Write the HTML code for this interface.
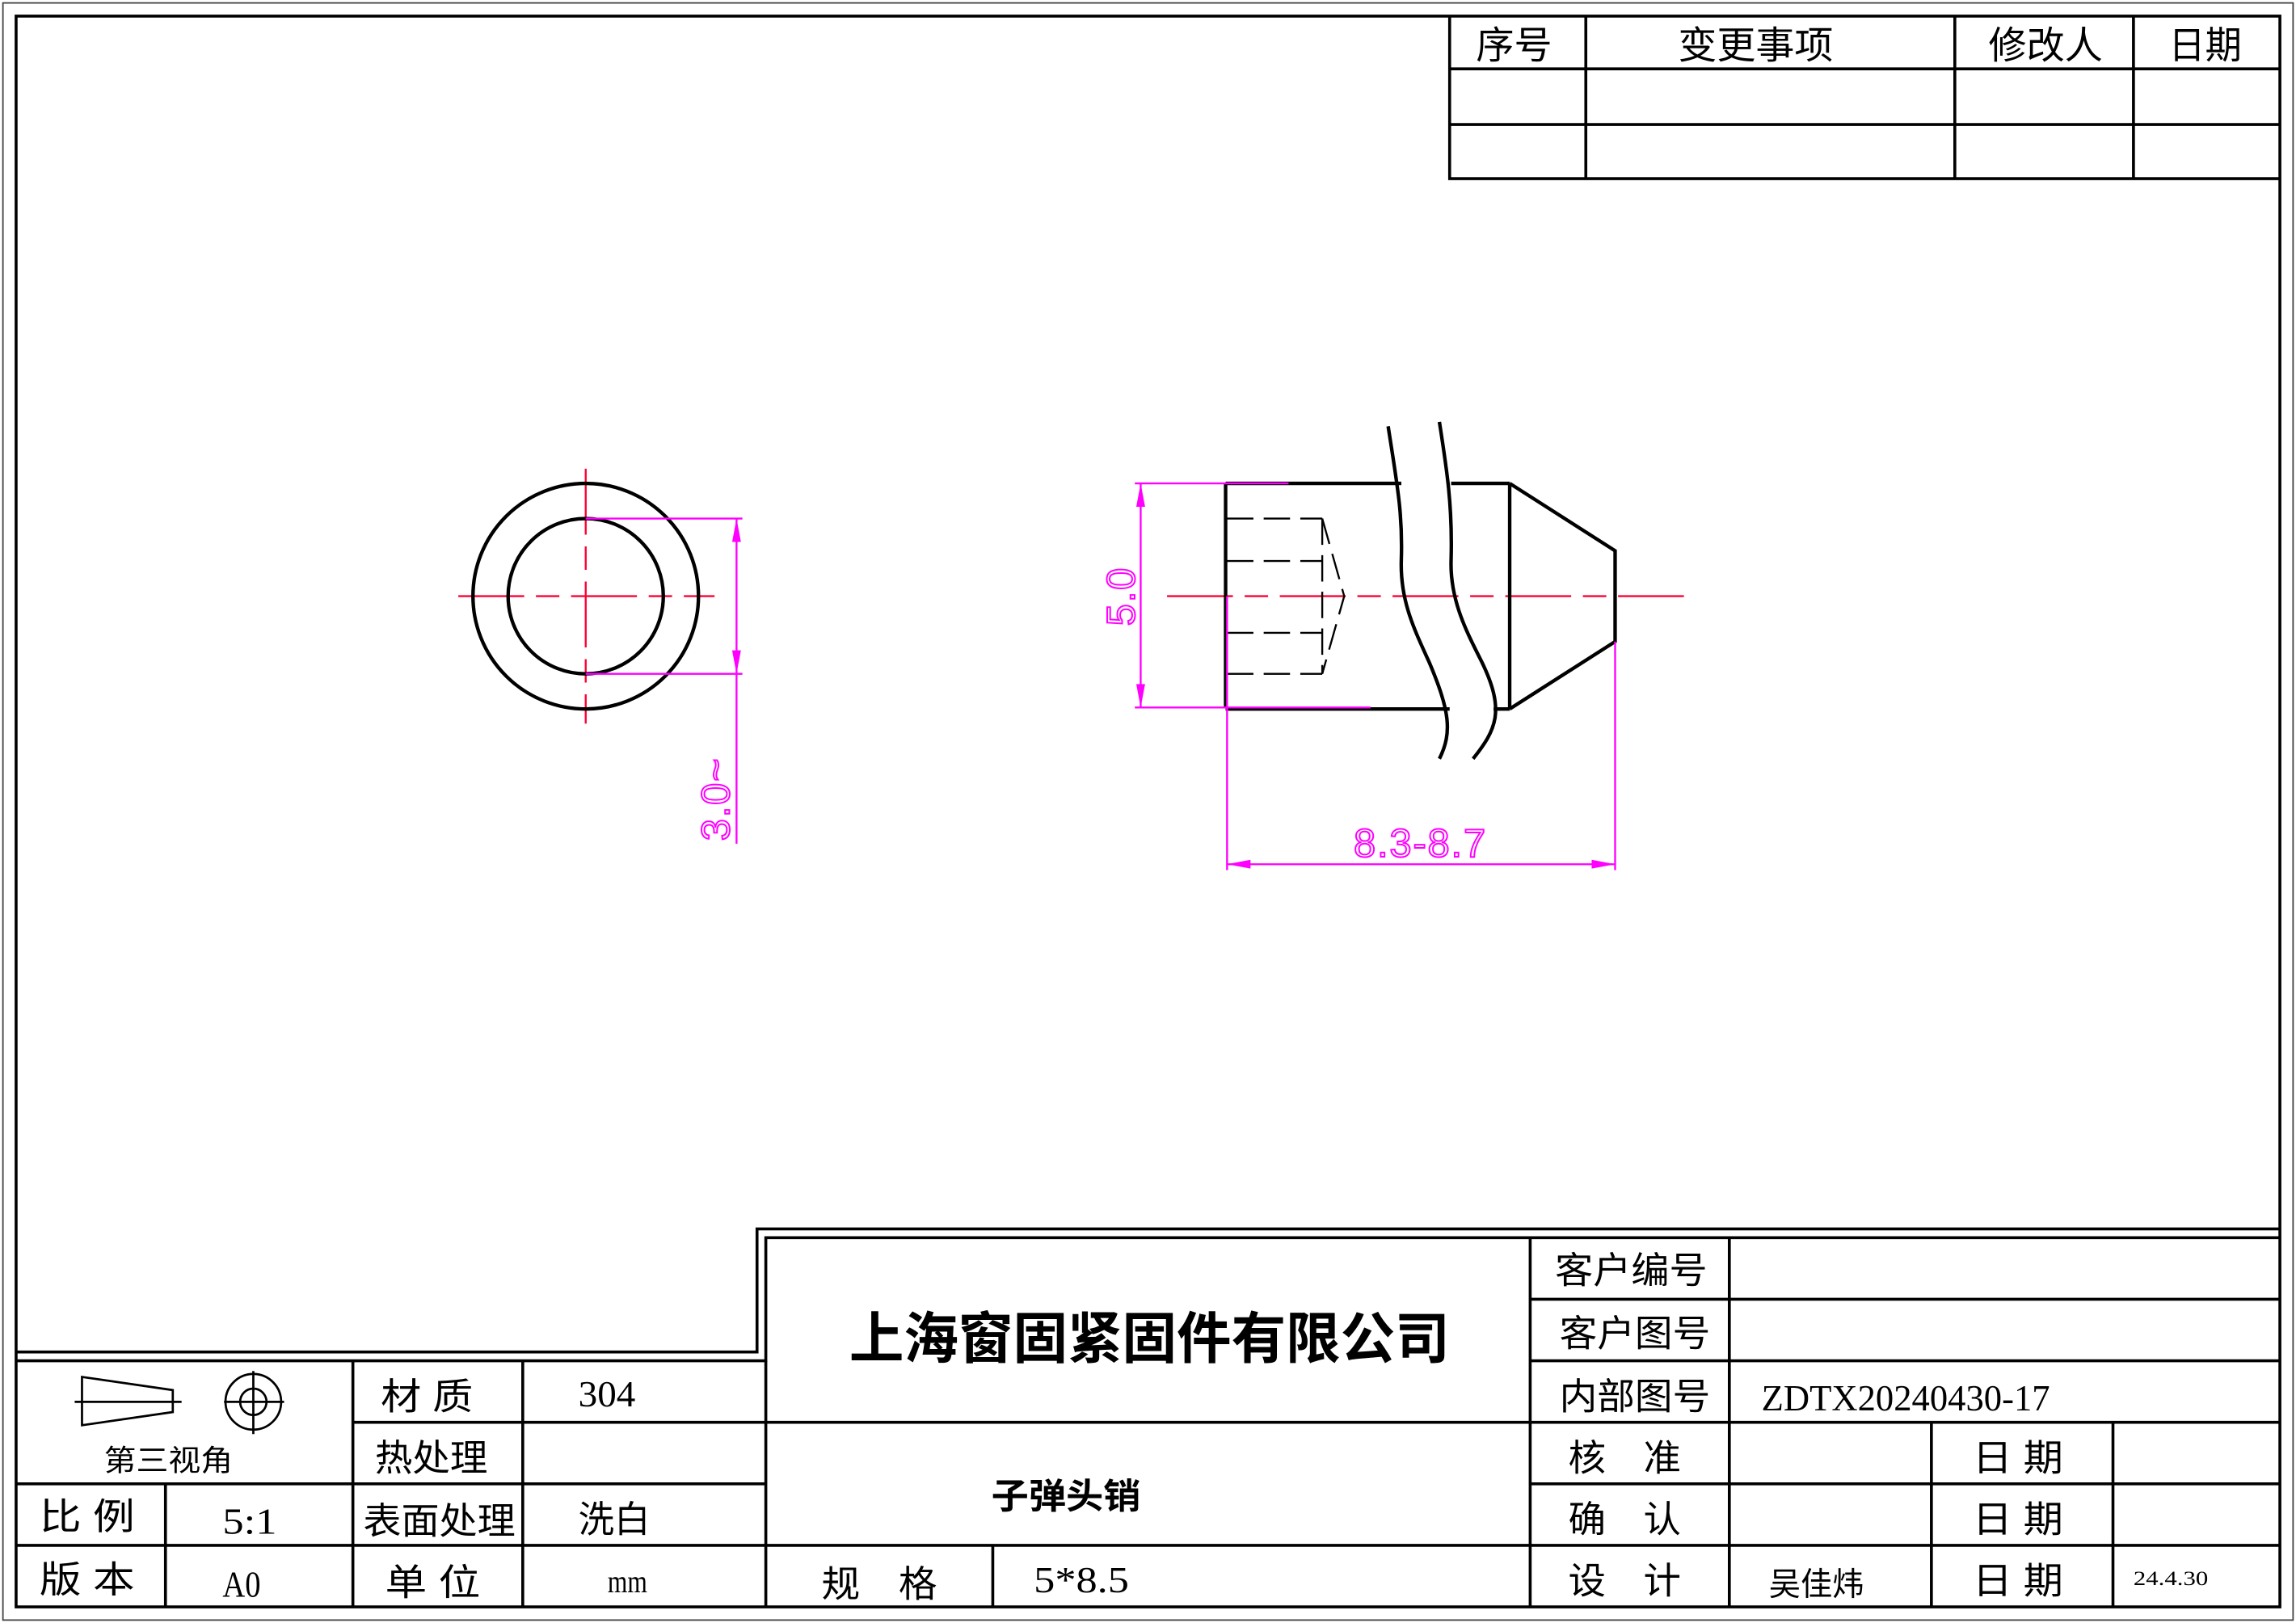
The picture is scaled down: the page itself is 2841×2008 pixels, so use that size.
<!DOCTYPE html>
<html><head><meta charset="utf-8"><style>
html,body{margin:0;padding:0;background:#fff;}
svg{display:block;}
text{font-family:"Liberation Serif","Noto Serif CJK SC",serif;fill:#000;}
.cj{font-family:"Liberation Sans","Noto Sans CJK SC",sans-serif;}
.dim{font-family:"Liberation Sans",sans-serif;fill:none;stroke:#f0f;stroke-width:1.1;letter-spacing:1px;}
</style></head><body>
<svg width="2841" height="2008" viewBox="0 0 1568 1108" preserveAspectRatio="none" xmlns="http://www.w3.org/2000/svg">
<rect x="0" y="0" width="1568" height="1108" fill="#fff"/>
<rect x="2" y="2" width="1564" height="1104" fill="none" stroke="#444" stroke-width="1"/>
<g fill="none" stroke="#000" stroke-width="2">
<rect x="11" y="11" width="1546" height="1086"/>
<polyline points="990,11 990,122 1557,122"/>
<line x1="990" y1="47" x2="1557" y2="47"/><line x1="990" y1="85" x2="1557" y2="85"/>
<line x1="1083" y1="11" x2="1083" y2="122"/><line x1="1335" y1="11" x2="1335" y2="122"/><line x1="1457" y1="11" x2="1457" y2="122"/>
<polyline points="11,923 517,923 517,839 1557,839"/>
<polyline points="11,929 523,929 523,845 1557,845"/>
<line x1="523" y1="929" x2="523" y2="1097"/>
<line x1="11" y1="1013" x2="523" y2="1013"/><line x1="11" y1="1055" x2="523" y2="1055"/>
<line x1="241" y1="971" x2="523" y2="971"/>
<line x1="113" y1="1013" x2="113" y2="1097"/><line x1="241" y1="929" x2="241" y2="1097"/><line x1="357" y1="929" x2="357" y2="1097"/>
<line x1="523" y1="971" x2="1045" y2="971"/><line x1="523" y1="1055" x2="1045" y2="1055"/>
<line x1="678" y1="1055" x2="678" y2="1097"/>
<line x1="1045" y1="845" x2="1045" y2="1097"/>
<line x1="1181" y1="845" x2="1181" y2="1097"/>
<line x1="1045" y1="887" x2="1557" y2="887"/><line x1="1045" y1="929" x2="1557" y2="929"/><line x1="1045" y1="971" x2="1557" y2="971"/><line x1="1045" y1="1013" x2="1557" y2="1013"/><line x1="1045" y1="1055" x2="1557" y2="1055"/>
<line x1="1319" y1="971" x2="1319" y2="1097"/><line x1="1443" y1="971" x2="1443" y2="1097"/>
<polygon points="56,940 118,949 118,964 56,973" stroke-width="1.5"/>
<line x1="51" y1="957" x2="124" y2="957" stroke-width="1.5"/>
<ellipse cx="173" cy="957" rx="19" ry="19" stroke-width="1.5"/>
<ellipse cx="173" cy="957" rx="9" ry="9" stroke-width="1.5"/>
<line x1="153" y1="957" x2="194" y2="957" stroke-width="1.5"/>
<line x1="173" y1="936" x2="173" y2="979" stroke-width="1.5"/>
</g>

<g fill="none">
<line x1="313" y1="407" x2="488" y2="407" stroke="#f03" stroke-width="1.3" stroke-dasharray="45,8,16,8"/>
<line x1="400" y1="320" x2="400" y2="494" stroke="#f03" stroke-width="1.3" stroke-dasharray="45,8,16,8"/>
<circle cx="400" cy="407" r="77" stroke="#000" stroke-width="2.4"/>
<circle cx="400" cy="407" r="53" stroke="#000" stroke-width="2.4"/>
<g stroke="#f0f" stroke-width="1.3">
<line x1="400" y1="354" x2="507" y2="354"/><line x1="400" y1="460" x2="507" y2="460"/>
<line x1="503" y1="354" x2="503" y2="576"/>
</g>
<polygon points="503,354 500,370 506,370" fill="#f0f"/>
<polygon points="503,460 500,444 506,444" fill="#f0f"/>
</g>
<text class="dim" transform="translate(498,574) rotate(-90)" font-size="27">3.0~</text>

<g fill="none">
<line x1="797" y1="407" x2="1155" y2="407" stroke="#f03" stroke-width="1.3" stroke-dasharray="45,8,16,8"/>
<g stroke="#000" stroke-width="1.3" stroke-dasharray="18,7">
<line x1="838" y1="354" x2="903" y2="354"/><line x1="838" y1="383" x2="903" y2="383"/>
<line x1="838" y1="432" x2="903" y2="432"/><line x1="838" y1="460" x2="903" y2="460"/>
<line x1="903" y1="354" x2="903" y2="460"/>
<polyline points="903,354 918,407 903,460"/>
</g>
<g stroke="#000" stroke-width="2.4">
<line x1="837" y1="330" x2="837" y2="483"/>
<line x1="837" y1="330" x2="957" y2="330"/><line x1="991" y1="330" x2="1031" y2="330"/>
<line x1="837" y1="484" x2="990" y2="484"/><line x1="1020" y1="484" x2="1031" y2="484"/>
<line x1="1031" y1="330" x2="1031" y2="484"/>
<polyline points="1031,330 1103,376 1103,438 1031,484"/>
<path d="M948,291 C954,330 958,350 957,382 C956,410 966,430 976,452 C990,485 992,500 983,518"/>
<path d="M983,288 C988,320 992,345 991,382 C990,410 1002,432 1012,452 C1028,485 1022,498 1006,518"/>
</g>
<g stroke="#f0f" stroke-width="1.3">
<line x1="775" y1="330" x2="880" y2="330"/><line x1="775" y1="483" x2="936" y2="483"/>
<line x1="779" y1="330" x2="779" y2="483"/>
<line x1="838" y1="483" x2="838" y2="594"/><line x1="1103" y1="438" x2="1103" y2="594"/>
<line x1="838" y1="590" x2="1103" y2="590"/>
<line x1="838" y1="407" x2="838" y2="483"/>
</g>
<polygon points="779,330 776,346 782,346" fill="#f0f"/>
<polygon points="779,483 776,467 782,467" fill="#f0f"/>
<polygon points="838,590 854,587 854,593" fill="#f0f"/>
<polygon points="1103,590 1087,587 1087,593" fill="#f0f"/>
</g>
<text class="dim" transform="translate(775,407) rotate(-90)" font-size="27" text-anchor="middle">5.0</text>
<text class="dim" x="970" y="585" font-size="27" text-anchor="middle">8.3-8.7</text>

<g class="cj">
<text class="cj" x="1008" y="40" font-size="26" textLength="52" lengthAdjust="spacingAndGlyphs">序号</text>
<text class="cj" x="1146" y="40" font-size="26" textLength="106" lengthAdjust="spacingAndGlyphs">变更事项</text>
<text class="cj" x="1358" y="40" font-size="26" textLength="78" lengthAdjust="spacingAndGlyphs">修改人</text>
<text class="cj" x="1481" y="40" font-size="26" textLength="50" lengthAdjust="spacingAndGlyphs">日期</text>
<text class="cj" x="580" y="927" font-size="38" font-weight="bold" textLength="410" lengthAdjust="spacingAndGlyphs">上海窗固紧固件有限公司</text>
<text class="cj" x="677" y="1030" font-size="24" font-weight="bold" textLength="102" lengthAdjust="spacingAndGlyphs">子弹头销</text>
<text class="cj" x="561" y="1090" font-size="25" textLength="79" lengthAdjust="spacingAndGlyphs">规　格</text>
<text x="706" y="1087" font-size="25" textLength="65" lengthAdjust="spacingAndGlyphs">5*8.5</text>
<text class="cj" x="1062" y="876" font-size="25" textLength="104" lengthAdjust="spacingAndGlyphs">客户编号</text>
<text class="cj" x="1065" y="919" font-size="25" textLength="103" lengthAdjust="spacingAndGlyphs">客户图号</text>
<text class="cj" x="1065" y="962" font-size="25" textLength="103" lengthAdjust="spacingAndGlyphs">内部图号</text>
<text x="1203" y="963" font-size="25" textLength="197" lengthAdjust="spacingAndGlyphs">ZDTX20240430-17</text>
<text class="cj" x="1071" y="1004" font-size="25" textLength="77" lengthAdjust="spacingAndGlyphs">核　准</text>
<text class="cj" x="1071" y="1046" font-size="25" textLength="77" lengthAdjust="spacingAndGlyphs">确　认</text>
<text class="cj" x="1071" y="1088" font-size="25" textLength="77" lengthAdjust="spacingAndGlyphs">设　计</text>
<text class="cj" x="1208" y="1089" font-size="22" textLength="65" lengthAdjust="spacingAndGlyphs">吴佳炜</text>
<text class="cj" x="1347" y="1004" font-size="25" textLength="62" lengthAdjust="spacingAndGlyphs">日 期</text>
<text class="cj" x="1347" y="1046" font-size="25" textLength="62" lengthAdjust="spacingAndGlyphs">日 期</text>
<text class="cj" x="1347" y="1088" font-size="25" textLength="62" lengthAdjust="spacingAndGlyphs">日 期</text>
<text x="1457" y="1082" font-size="14" textLength="51" lengthAdjust="spacingAndGlyphs">24.4.30</text>
<text class="cj" x="260" y="962" font-size="25" textLength="63" lengthAdjust="spacingAndGlyphs">材 质</text>
<text x="395" y="960" font-size="25" textLength="39" lengthAdjust="spacingAndGlyphs">304</text>
<text class="cj" x="256" y="1004" font-size="25" textLength="77" lengthAdjust="spacingAndGlyphs">热处理</text>
<text class="cj" x="71" y="1004" font-size="20" textLength="88" lengthAdjust="spacingAndGlyphs">第三视角</text>
<text class="cj" x="27" y="1044" font-size="25" textLength="65" lengthAdjust="spacingAndGlyphs">比 例</text>
<text x="152" y="1047" font-size="25" textLength="37" lengthAdjust="spacingAndGlyphs">5:1</text>
<text class="cj" x="248" y="1047" font-size="25" textLength="104" lengthAdjust="spacingAndGlyphs">表面处理</text>
<text class="cj" x="395" y="1046" font-size="25" textLength="49" lengthAdjust="spacingAndGlyphs">洗白</text>
<text class="cj" x="27" y="1087" font-size="25" textLength="65" lengthAdjust="spacingAndGlyphs">版 本</text>
<text x="152" y="1090" font-size="25" textLength="26" lengthAdjust="spacingAndGlyphs">A0</text>
<text class="cj" x="263" y="1089" font-size="25" textLength="65" lengthAdjust="spacingAndGlyphs">单 位</text>
<text x="415" y="1087" font-size="22" textLength="27" lengthAdjust="spacingAndGlyphs">mm</text>
</g>
</svg>
</body></html>
